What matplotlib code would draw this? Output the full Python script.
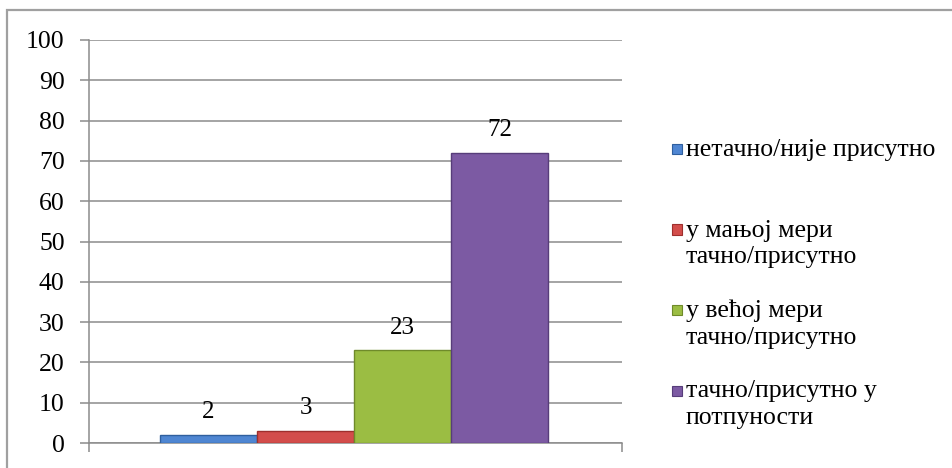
import matplotlib.pyplot as plt
import matplotlib.patches as mpatches
import numpy as np

# Данные
categories = ['нетачно/није присутно',
              'у мањој мери\nтачно/присутно',
              'у већој мери\nтачно/присутно',
              'тачно/присутно у\nпотпуности']
values = [2, 3, 23, 72]
colors = ['#4f86d2', '#d34d4b', '#9bbd43', '#7c5aa3']
edges = ['#2f5f9e', '#9e2f2d', '#6f8a2a', '#573d7a']
yticks = list(range(0, 101, 10))

plt.rcParams['font.family'] = ['Liberation Serif', 'DejaVu Serif']

W, H = 952, 468
fig = plt.figure(figsize=(W / 100, H / 100), dpi=100)

# рамка диаграма
frame = mpatches.Rectangle((7 / W, -0.1), 1.2, (H - 10) / H + 0.1,
                           transform=fig.transFigure, fill=False,
                           edgecolor='#a0a0a0', linewidth=1.6)
fig.add_artist(frame)

ax = fig.add_axes([89 / W, (H - 443) / H, (622 - 89) / W, (443 - 40) / H])

x = np.arange(len(values))
bars = ax.bar(x, values, width=1.0, color=colors, edgecolor=edges,
              linewidth=1.0, zorder=3)
for xi, v in zip(x, values):
    ax.annotate(str(v), (xi, v), xytext=(0, 8.5), textcoords='offset points',
                ha='center', va='bottom', fontsize=18, color='black')

ax.set_xlim(-1.23, 4.26)
ax.set_ylim(0, 100)
ax.set_yticks(yticks)
ax.set_yticklabels([str(t) for t in yticks], fontsize=18.5)
ax.set_xticks([-1.23, 4.26])
ax.set_xticklabels(['', ''])
ax.tick_params(axis='y', length=6.5, width=1.1, color='#8c8c8c', pad=11)
ax.tick_params(axis='x', length=6.5, width=1.1, color='#8c8c8c')
ax.yaxis.grid(True, color='#8c8c8c', linewidth=1.1, zorder=0)
ax.set_axisbelow(True)
for side in ['top', 'right']:
    ax.spines[side].set_visible(False)
for side in ['left', 'bottom']:
    ax.spines[side].set_color('#8c8c8c')
    ax.spines[side].set_linewidth(1.1)

# Легенда
for i, (lab, c, e) in enumerate(zip(categories, colors, edges)):
    yc = H - (149 + 80.5 * i)
    sq = mpatches.Rectangle((672 / W, (yc - 5) / H), 10 / W, 10 / H,
                            transform=fig.transFigure, facecolor=c,
                            edgecolor=e, linewidth=0.8)
    fig.add_artist(sq)
    fig.text(686 / W, (yc + 10) / H, lab, fontsize=18.5, ha='left',
             va='top', linespacing=1.25)

fig.savefig('out.png', dpi=100)
